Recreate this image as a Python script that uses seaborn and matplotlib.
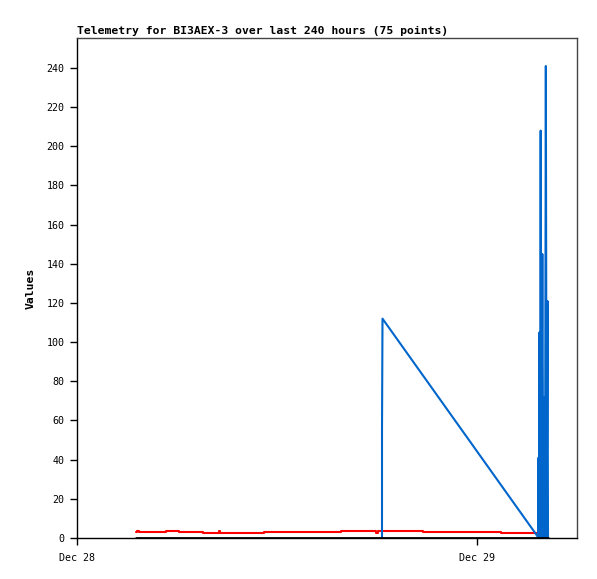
"""Telemetry chart for BI3AEX-3 (last 240 hours)."""

import matplotlib

matplotlib.use("Agg")
import matplotlib.dates as mdates
import matplotlib.pyplot as plt
import pandas as pd
import seaborn as sns

START = pd.Timestamp("2023-12-28 00:00")

# hours after Dec 28 00:00 and readings
red_hours = [3.54, 3.62, 3.70, 3.78, 5.28, 5.34, 6.06, 6.12, 7.50, 7.56, 8.46, 8.52,
             8.60, 11.16, 11.22, 15.78, 15.84, 17.88, 17.94, 18.06, 20.68, 20.74,
             25.36, 25.42, 27.62]
red_values = [3.0, 3.8, 3.0, 3.0, 3.0, 3.8, 3.8, 3.3, 3.3, 2.8, 2.8, 3.6,
              2.8, 2.8, 3.3, 3.3, 3.8, 3.8, 2.6, 3.8, 3.8, 3.2,
              3.2, 2.6, 2.6]

blue_hours = [18.30, 18.301, 18.33, 27.62, 27.66, 27.69, 27.72, 27.75, 27.78,
              27.82, 27.86, 27.92, 27.98, 28.04, 28.08, 28.13, 28.18, 28.23, 28.26]
blue_values = [0, 56, 112, 1, 0, 41, 0, 105, 0,
               208, 0, 145, 0, 72, 0, 241, 0, 121, 0]

black_hours = [3.54, 28.26]
black_values = [0, 0]

y_ticks = [0, 20, 40, 60, 80, 100, 120, 140, 160, 180, 200, 220, 240]
title = "Telemetry for BI3AEX-3 over last 240 hours (75 points)"


def to_frame(hours, values):
    return pd.DataFrame({
        "time": START + pd.to_timedelta(hours, unit="h"),
        "value": values,
    })


def main() -> None:
    sns.set_style("white")
    plt.rcParams["font.family"] = ["DejaVu Sans Mono"]
    plt.rcParams["text.color"] = "black"
    plt.rcParams["axes.labelcolor"] = "black"

    fig = plt.figure(figsize=(5.97, 5.79), dpi=100)
    ax = fig.add_axes([77 / 597, 1 - 538 / 579, 500 / 597, 500 / 579])

    sns.lineplot(data=to_frame(red_hours, red_values), x="time", y="value",
                 color="#ff0000", lw=1.5, drawstyle="steps-post", ax=ax)
    sns.lineplot(data=to_frame(blue_hours, blue_values), x="time", y="value",
                 color="#0066cc", lw=1.5, ax=ax)
    sns.lineplot(data=to_frame(black_hours, black_values), x="time", y="value",
                 color="#000000", lw=2, ax=ax)

    ax.set_xlim(START, START + pd.Timedelta(hours=30))
    ax.set_ylim(0, 255.3)
    ax.set_yticks(y_ticks)
    ax.xaxis.set_major_locator(mdates.DayLocator())
    ax.xaxis.set_major_formatter(mdates.DateFormatter("%b %d"))

    ax.tick_params(axis="both", direction="out", length=5, width=1,
                   labelsize=7.2, color="black", labelcolor="black",
                   bottom=True, left=True, pad=4)
    ax.tick_params(axis="x", pad=6)
    for side in ["left", "bottom"]:
        ax.spines[side].set_color("black")
        ax.spines[side].set_linewidth(1)
    for side in ["top", "right"]:
        ax.spines[side].set_color("#444444")
        ax.spines[side].set_linewidth(1)

    ax.set_xlabel("")
    ax.set_ylabel("Values", fontsize=8.2, fontweight="bold", labelpad=8)
    ax.set_title(title, loc="left", fontsize=8.2, fontweight="bold", pad=3)

    fig.savefig("out.png", dpi=100)
    plt.close(fig)


if __name__ == "__main__":
    main()
